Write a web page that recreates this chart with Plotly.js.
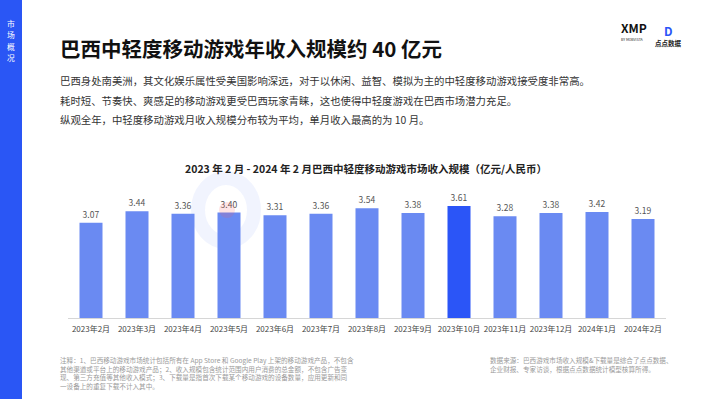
<!DOCTYPE html>
<html><head><meta charset="utf-8">
<script src="https://cdn.plot.ly/plotly-3.0.1.min.js"></script>
<style>html,body{margin:0;padding:0;background:#fff;}#c{width:710px;height:399px;}</style>
</head><body><div id="c"></div>
<script>
const months = ['2023年2月','2023年3月','2023年4月','2023年5月','2023年6月','2023年7月','2023年8月','2023年9月','2023年10月','2023年11月','2023年12月','2024年1月','2024年2月'];
const revenue = [3.07,3.44,3.36,3.40,3.31,3.36,3.54,3.38,3.61,3.28,3.38,3.42,3.19];
const highlightMonth = '2023年10月';
const pageTitle = '巴西中轻度移动游戏年收入规模约 40 亿元';
const paragraph = [
  '巴西身处南美洲，其文化娱乐属性受美国影响深远，对于以休闲、益智、模拟为主的中轻度移动游戏接受度非常高。',
  '耗时短、节奏快、爽感足的移动游戏更受巴西玩家青睐，这也使得中轻度游戏在巴西市场潜力充足。',
  '纵观全年，中轻度移动游戏月收入规模分布较为平均，单月收入最高的为 10 月。'
];
const chartTitle = '2023 年 2 月 - 2024 年 2 月巴西中轻度移动游戏市场收入规模（亿元/人民币）';
const notesLeft = [
  '注释：1、巴西移动游戏市场统计包括所有在 App Store 和 Google Play 上架的移动游戏产品，不包含',
  '其他渠道或平台上的移动游戏产品；2、收入规模包含统计范围内用户消费的总金额，不包含广告变',
  '现、第三方充值等其他收入模式；3、下载量是指首次下载某个移动游戏的设备数量，应用更新和同',
  '一设备上的重复下载不计入其中。'
];
const notesRight = [
  '数据来源：巴西游戏市场收入规模&下载量是综合了点点数据、',
  '企业财报、专家访谈，根据点点数据统计模型核算所得。'
];
const sideLabel = '市场概况';

const W=710,H=399,L=68,R=44,T=190,B=81;
const pw=W-L-R, ph=H-T-B;
const xp = px => (px-L)/pw;
const yp = py => (H-B-py)/ph;
const FONT = '"Noto Sans CJK SC","Noto Sans",sans-serif';

const colors = months.map(m => m===highlightMonth ? '#2b55f7' : '#6a8af2');

const ann = [];
function txt(text,x,y,size,color,opts){
  ann.push(Object.assign({text:text,x:xp(x),y:yp(y),xref:'paper',yref:'paper',showarrow:false,
    xanchor:'left',yanchor:'middle',font:{family:FONT,size:size,color:color}},opts||{}));
}
txt('<b>'+pageTitle+'</b>',58,48,20.5,'#111');
[80,100,119].forEach((y,i)=>txt(paragraph[i],58,y,10.4,'#333'));
txt('<b>'+chartTitle+'</b>',366,168,10.5,'#222',{xanchor:'center'});
txt(notesLeft.join('<br>'),58,353,6.6,'#9a9a9a',{yanchor:'top',align:'left'});
txt(notesRight.join('<br>'),488,353,6.6,'#9a9a9a',{yanchor:'top',align:'left'});
sideLabel.split('').forEach((ch,i)=>txt(ch,11,23.5+i*11.4,7.8,'#fff',{xanchor:'center'}));
// logos
txt('<b>XMP</b>',619,27.5,12,'#111');
txt('BY MOBVISTA',632,39,3.5,'#222',{xanchor:'center'});
txt('<b>D</b>',668,30,12,'#2b55f7',{xanchor:'center'});
txt('<b>点点数据</b>',668,43,6.5,'#222',{xanchor:'center'});

const shapes = [
  {type:'rect',xref:'paper',yref:'paper',x0:xp(0),x1:xp(22),y0:yp(0),y1:yp(H),fillcolor:'#2a56f5',line:{width:0},layer:'below'},
  {type:'circle',xref:'paper',yref:'paper',x0:xp(198),x1:xp(254),y0:yp(178),y1:yp(242),line:{color:'rgba(60,100,240,0.07)',width:14},fillcolor:'rgba(0,0,0,0)',layer:'below'},
  {type:'circle',xref:'paper',yref:'paper',x0:xp(219),x1:xp(235),y0:yp(202),y1:yp(218),line:{width:0},fillcolor:'rgba(255,90,90,0.16)',layer:'above'}
];

Plotly.newPlot('c',[{
  type:'bar', x:months, y:revenue,
  marker:{color:colors},
  texttemplate:'%{y:.2f}', textposition:'outside', cliponaxis:false,
  textfont:{family:FONT,size:8.5,color:'#555'},
  hoverinfo:'skip'
}],{
  width:W,height:H,
  margin:{l:L,r:R,t:T,b:B,pad:0},
  paper_bgcolor:'#fff',plot_bgcolor:'rgba(0,0,0,0)',
  bargap:0.5,
  showlegend:false,
  font:{family:FONT},
  xaxis:{type:'category',showline:true,linecolor:'#d6d6d6',linewidth:1,showgrid:false,zeroline:false,ticks:'',
    tickangle:0,automargin:false,ticklabelstandoff:3,
    tickfont:{family:FONT,size:8,color:'#444'},fixedrange:true},
  yaxis:{range:[0,4.125],visible:false,showgrid:false,zeroline:false,fixedrange:true},
  annotations:ann,
  shapes:shapes
},{displayModeBar:false,staticPlot:true});
</script></body></html>
